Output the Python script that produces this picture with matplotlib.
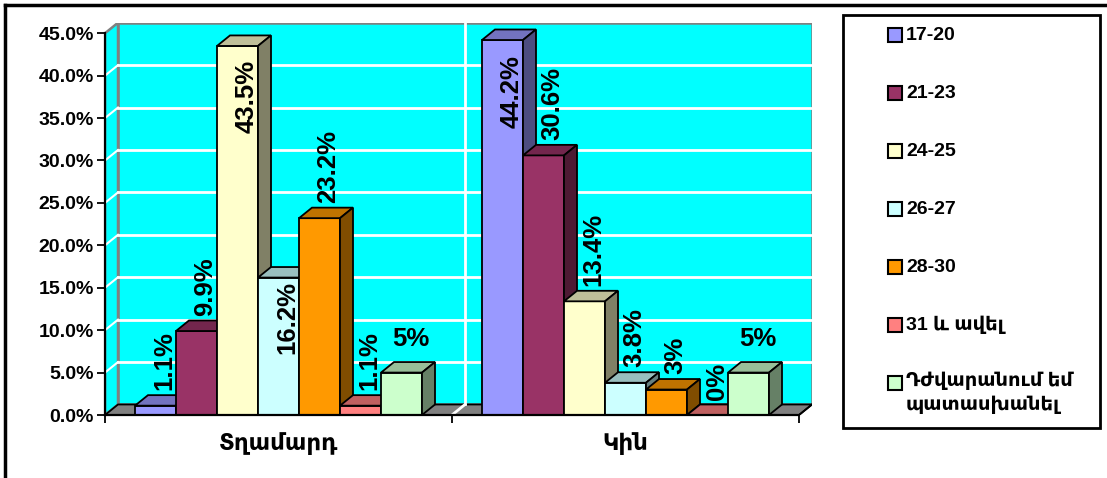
import matplotlib.pyplot as plt
from matplotlib.colors import to_rgb
from matplotlib.patches import Polygon, Rectangle
from matplotlib.lines import Line2D
import numpy as np

categories = ['Տղամարդ', 'Կին']
series_labels = ['17-20', '21-23', '24-25', '26-27', '28-30', '31 և ավել',
                 'Դժվարանում եմ\nպատասխանել']
age_17_20 = [1.1, 44.2]
age_21_23 = [9.9, 30.6]
age_24_25 = [43.5, 13.4]
age_26_27 = [16.2, 3.8]
age_28_30 = [23.2, 3]
age_31_plus = [1.1, 0]
no_answer = [5, 5]
series_values = [age_17_20, age_21_23, age_24_25, age_26_27, age_28_30, age_31_plus, no_answer]
y_ticks = np.arange(0, 46, 5)

colors = ['#9999FF', '#993366', '#FFFFCC', '#CCFFFF', '#FF9900', '#FF8080', '#CCFFCC']
fonts = ['Liberation Sans', 'DejaVu Sans']

W, H = 1107, 478
fig = plt.figure(figsize=(W / 100, H / 100), dpi=100)
ax = fig.add_axes([105 / W, 1 - 415 / H, 707 / W, 392.3 / H])
ax.set_facecolor('none')

DX = 13 / 347      # depth offset, x units
DY = 1.24          # depth offset, percent
BW = 41 / 347      # bar width
margin = (1 - 7 * BW) / 2
ax.set_xlim(0, 2 + DX)
ax.set_ylim(0, 45 + DY)


def shade(c, f):
    return tuple(v * f for v in to_rgb(c))


# walls and floor
ax.add_patch(Polygon([(DX, DY), (2 + DX, DY), (2 + DX, 45 + DY), (DX, 45 + DY)],
                     fc='#00FFFF', ec='#808080', lw=1.8, zorder=0.5))
ax.add_patch(Polygon([(0, 0), (DX, DY), (DX, 45 + DY), (0, 45)],
                     fc='#00FFFF', ec='#808080', lw=1.8, zorder=0.5))
ax.add_patch(Polygon([(0, 0), (2, 0), (2 + DX, DY), (DX, DY)],
                     fc='#808080', ec='black', lw=1.3, zorder=0.6))
for t in y_ticks[1:-1]:
    ax.plot([DX, 2 + DX], [t + DY, t + DY], color='white', lw=2, zorder=0.7)
    ax.plot([0, DX], [t, t + DY], color='white', lw=1.5, zorder=0.7)
ax.plot([1 + DX, 1 + DX], [DY, 45 + DY], color='white', lw=2, zorder=0.7)
ax.plot([1, 1 + DX], [0, DY], color='white', lw=2, zorder=0.7)

# 3D bars
inside = {(0, 2): -1.7, (0, 3): -0.4, (1, 0): -1.8}
for j, (vals, c) in enumerate(zip(series_values, colors)):
    x0 = np.arange(len(categories)) + margin + j * BW
    ax.bar(x0, vals, width=BW, align='edge', color=c, edgecolor='black', lw=1.3, zorder=3 + j)
    for i, (xi, v) in enumerate(zip(x0, vals)):
        ax.add_patch(Polygon([(xi, v), (xi + BW, v), (xi + BW + DX, v + DY), (xi + DX, v + DY)],
                             fc=shade(c, 0.75), ec='black', lw=1.3, zorder=3 + j))
        ax.add_patch(Polygon([(xi + BW, 0), (xi + BW + DX, DY), (xi + BW + DX, v + DY), (xi + BW, v)],
                             fc=shade(c, 0.5), ec='black', lw=1.3, zorder=3 + j))
        txt = f'{v:g}%'
        lx = xi + BW / 2 + 0.7 * DX
        if j == len(series_values) - 1:
            ax.text(lx, v + 2.6, txt, ha='center', va='bottom', fontsize=18.5,
                    fontweight='bold', family=fonts, zorder=30)
        elif (i, j) in inside:
            ax.text(lx, v + inside[(i, j)], txt, ha='center', va='top', rotation=90,
                    fontsize=18.5, fontweight='bold', family=fonts, zorder=30)
        else:
            ax.text(lx, v + 1.8, txt, ha='center', va='bottom', rotation=90,
                    fontsize=18.5, fontweight='bold', family=fonts, zorder=30)

# axes
for s in ['top', 'right']:
    ax.spines[s].set_visible(False)
ax.spines['left'].set_bounds(0, 45)
ax.spines['bottom'].set_bounds(0, 2)
for s in ['left', 'bottom']:
    ax.spines[s].set_linewidth(1.6)
    ax.spines[s].set_zorder(20)
ax.set_yticks(y_ticks)
ax.set_yticklabels([f'{t:.1f}%' for t in y_ticks], fontsize=14, fontweight='bold', family=fonts)
ax.tick_params(axis='y', length=6, width=1.3, pad=2)
ax.set_xticks([0, 1, 2])
ax.set_xticklabels([])
ax.set_xticks([0.5, 1.5], minor=True)
ax.set_xticklabels(categories, minor=True, fontsize=16.5, fontweight='bold', family=fonts)
ax.tick_params(axis='x', which='major', length=6, width=1.3)
ax.tick_params(axis='x', which='minor', length=0, pad=12)
ax.plot([2, 2 + DX], [0, DY], color='black', lw=1.3, zorder=20)

# outer frame
fig.add_artist(Line2D([5 / W, 1], [1 - 5 / H, 1 - 5 / H], color='black', lw=2.5))
fig.add_artist(Line2D([5 / W, 5 / W], [0, 1 - 5 / H], color='black', lw=2.5))

# legend
fig.add_artist(Rectangle((843 / W, 1 - 428 / H), 257 / W, 413 / H, transform=fig.transFigure,
                         fc='white', ec='black', lw=2))
for k, (lab, c) in enumerate(zip(series_labels, colors)):
    yc = 35 + 58 * k
    fig.add_artist(Rectangle((888 / W, 1 - (yc + 7) / H), 14 / W, 14 / H, transform=fig.transFigure,
                             fc=c, ec='black', lw=1.5))
    if '\n' in lab:
        fig.text(906 / W, 1 - (yc - 11) / H, lab, ha='left', va='top', fontsize=14,
                 fontweight='bold', family=fonts, linespacing=1.35)
    else:
        fig.text(906 / W, 1 - yc / H, lab, ha='left', va='center', fontsize=14,
                 fontweight='bold', family=fonts)

fig.savefig('out.png', dpi=100)
